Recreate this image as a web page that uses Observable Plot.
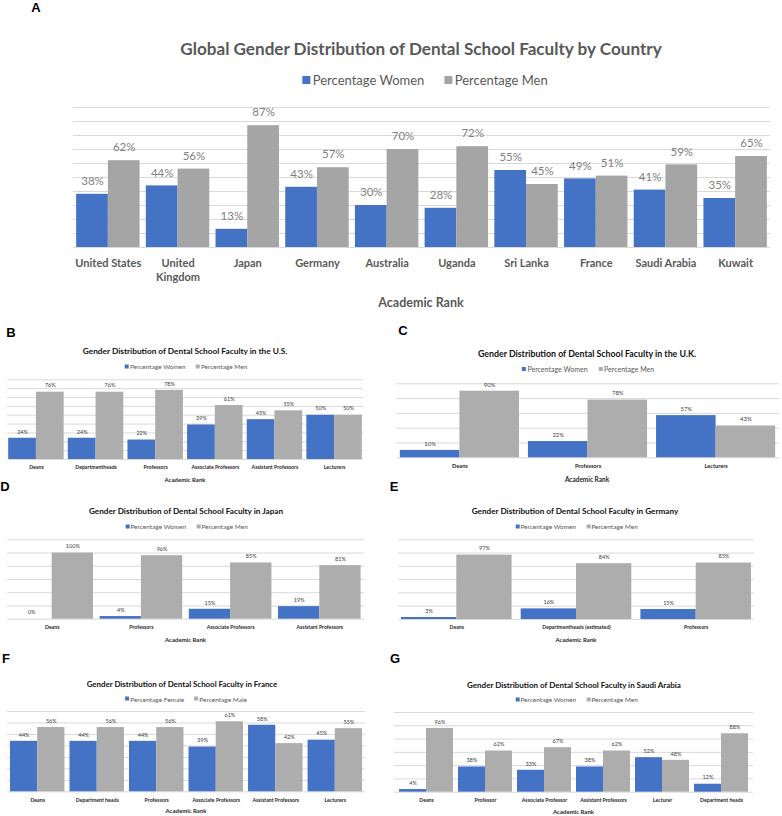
<!DOCTYPE html>
<html>
<head>
<meta charset="utf-8">
<script src="https://cdn.jsdelivr.net/npm/d3@7"></script>
<script src="https://cdn.jsdelivr.net/npm/@observablehq/plot@0.6"></script>
<style>
  html, body { margin: 0; padding: 0; background: #fff; }
  #root { position: relative; width: 782px; height: 816px; overflow: hidden; font-family: Lato, "Noto Sans", sans-serif; }
  .abs { position: absolute; white-space: nowrap; }
  .c { transform: translate(-50%, -50%); }
  .letter { font-family: "Liberation Sans", Arial, sans-serif; font-weight: bold; font-size: 13px; color: #000; }
  .legend { display: flex; align-items: center; }
  .sw { display: inline-block; }
</style>
</head>
<body>
<div id="root"></div>
<script>
// ---------- DATA ----------
const countries = ["United States", "United Kingdom", "Japan", "Germany", "Australia", "Uganda", "Sri Lanka", "France", "Saudi Arabia", "Kuwait"];
const countryTickLabels = ["United States", "United\nKingdom", "Japan", "Germany", "Australia", "Uganda", "Sri Lanka", "France", "Saudi Arabia", "Kuwait"];
const womenCountry = [38, 44, 13, 43, 30, 28, 55, 49, 41, 35];
const menCountry = [62, 56, 87, 57, 70, 72, 45, 51, 59, 65];

const ranksUS = ["Deans", "Departmentheads", "Professors", "Associate Professors", "Assistant Professors", "Lecturers"];
const womenUS = [24, 24, 22, 39, 45, 50];
const menUS = [76, 76, 78, 61, 55, 50];

const ranksUK = ["Deans", "Professors", "Lecturers"];
const womenUK = [10, 22, 57];
const menUK = [90, 78, 43];

const ranksJapan = ["Deans", "Professors", "Associate Professors", "Assistant Professors"];
const womenJapan = [0, 4, 15, 19];
const menJapan = [100, 96, 85, 81];

const ranksGermany = ["Deans", "Departmentheads (estimated)", "Professors"];
const womenGermany = [3, 16, 15];
const menGermany = [97, 84, 85];

const ranksFrance = ["Deans", "Department heads", "Professors", "Associate Professors", "Assistant Professors", "Lecturers"];
const femaleFrance = [44, 44, 44, 39, 58, 45];
const maleFrance = [56, 56, 56, 61, 42, 55];

const ranksSaudi = ["Deans", "Professor", "Associate Professor", "Assistant Professors", "Lecturer", "Department heads"];
const womenSaudi = [4, 38, 33, 38, 52, 12];
const menSaudi = [96, 62, 67, 62, 48, 88];

// ---------- STYLE ----------
const BLUE = "#4472C4";
const GRID = "#D9D9D9";
const root = document.getElementById("root");

function addText(txt, x, y, css) {
  const d = document.createElement("div");
  d.className = "abs c";
  d.textContent = txt;
  d.style.left = x + "px";
  d.style.top = y + "px";
  Object.assign(d.style, css);
  root.appendChild(d);
  return d;
}
function addLetter(txt, x, y) {
  const d = addText(txt, x, y, {});
  d.classList.add("letter");
}
function addLegend(labels, colors, x, y, fs, sq, gap, color) {
  const d = document.createElement("div");
  d.className = "abs c legend";
  d.style.left = x + "px";
  d.style.top = y + "px";
  d.style.fontSize = fs + "px";
  d.style.color = color;
  labels.forEach((l, i) => {
    const s = document.createElement("span");
    s.className = "sw";
    s.style.width = sq + "px"; s.style.height = sq + "px";
    s.style.background = colors[i];
    s.style.marginRight = (sq * 0.3) + "px";
    if (i > 0) s.style.marginLeft = gap + "px";
    const t = document.createElement("span");
    t.textContent = l;
    d.appendChild(s); d.appendChild(t);
  });
  root.appendChild(d);
}

function panel(p) {
  const n = p.cats.length;
  const rows = p.cats.map((c, i) => ({cat: c, tick: (p.ticks || p.cats)[i], w: p.women[i], m: p.men[i]}));
  const W = p.width - p.ml - p.mr;
  const step = W / (n - p.pi + 2 * p.po);
  const bw = step * (1 - p.pi);
  const gridVals = d3.range(0, p.ymax + 0.001, p.ystep);
  const chart = Plot.plot({
    width: p.width, height: p.height,
    marginTop: p.mt, marginBottom: p.mb, marginLeft: p.ml, marginRight: p.mr,
    x: {type: "band", domain: p.cats, paddingInner: p.pi, paddingOuter: p.po, round: false, axis: null},
    y: {domain: [0, p.ymax], axis: null},
    style: {fontFamily: "Lato, 'Noto Sans', sans-serif", background: "transparent", overflow: "visible"},
    marks: [
      Plot.ruleY(gridVals, {stroke: GRID, strokeWidth: 1}),
      Plot.barY(rows, {x: "cat", y: "w", fill: BLUE, insetLeft: 0, insetRight: bw / 2}),
      Plot.barY(rows, {x: "cat", y: "m", fill: p.gray, insetLeft: bw / 2, insetRight: 0}),
      Plot.text(rows, {x: "cat", y: "w", text: d => d.w + "%", dx: -bw / 4, dy: -p.valDy, fontSize: p.valFs, fill: p.valColor, lineAnchor: "middle"}),
      Plot.text(rows, {x: "cat", y: "m", text: d => d.m + "%", dx: bw / 4, dy: -p.valDy, fontSize: p.valFs, fill: p.valColor, lineAnchor: "middle"}),
      Plot.text(rows, {x: "cat", y: () => 0, text: "tick", dy: p.catDy, fontSize: p.catFs, fontWeight: "bold", fill: p.catColor, lineAnchor: "top", lineHeight: p.catLH || 1})
    ]
  });
  chart.style.position = "absolute";
  chart.style.left = p.left + "px";
  chart.style.top = p.top + "px";
  root.appendChild(chart);
}

// ---------- PANEL A ----------
addLetter("A", 36, 7);
addText("Global Gender Distribution of Dental School Faculty by Country", 421, 48, {fontSize: "17.1px", fontWeight: "bold", color: "#595959"});
addLegend(["Percentage Women", "Percentage Men"], [BLUE, "#A5A5A5"], 425, 80, 13, 8, 20, "#595959");
panel({left: 0, top: 100, width: 782, height: 220, mt: 7, mb: 73, ml: 73, mr: 12,
  cats: countries, ticks: countryTickLabels, women: womenCountry, men: menCountry,
  pi: 0.09, po: 0.045, ymax: 100, ystep: 10, gray: "#A5A5A5",
  valDy: 13, valFs: 11.5, valColor: "#7F7F7F", catDy: 10, catFs: 11, catColor: "#595959", catLH: 1.25});
addText("Academic Rank", 421, 302, {fontSize: "12.5px", fontWeight: "bold", color: "#595959"});

// ---------- small panels ----------
const SG = "#ADADAD";
function smallPanel(p, title, legendLabels, tpos, lpos, apos) {
  const k = p.k || 1;
  addText(title, tpos[0], tpos[1], {fontSize: p.titleFs + "px", fontWeight: "bold", color: "#111"});
  addLegend(legendLabels, [BLUE, SG], lpos[0], lpos[1], 6.5 * k, 4 * k, 10 * k, "#595959");
  panel(Object.assign({gray: SG, valDy: 6.5, valFs: 5.5 * k, valColor: "#404040", catFs: 5.2 * k, catColor: "#262626"}, p));
  addText("Academic Rank", apos[0], apos[1], {fontSize: (6 * k) + "px", fontWeight: "bold", color: "#262626"});
}

// B
addLetter("B", 11, 332);
smallPanel({left: 0, top: 370, width: 391, height: 110, mt: 9.3, mb: 21, ml: 7, mr: 28, titleFs: 8.3,
  cats: ranksUS, women: womenUS, men: menUS, pi: 0.07, po: 0.02, ymax: 90, ystep: 10, catDy: 6},
  "Gender Distribution of Dental School Faculty in the U.S.", ["Percentage Women", "Percentage Men"],
  [185, 351], [186, 366], [185, 479]);

// C
addLetter("C", 403, 330);
smallPanel({left: 391, top: 370, width: 391, height: 110, mt: 13.3, mb: 22.7, ml: 5, mr: 3, titleFs: 8.8, k: 1.08,
  cats: ranksUK, women: womenUK, men: menUK, pi: 0.07, po: 0.03, ymax: 100, ystep: 20, catDy: 6.5},
  "Gender Distribution of Dental School Faculty in the U.K.", ["Percentage Women", "Percentage Men"],
  [587, 353], [588, 369], [587, 479]);

// D
addLetter("D", 5, 486);
smallPanel({left: 0, top: 530, width: 391, height: 110, mt: 9.3, mb: 21.3, ml: 7, mr: 27, titleFs: 8.2,
  cats: ranksJapan, women: womenJapan, men: menJapan, pi: 0.074, po: 0.038, ymax: 120, ystep: 20, catDy: 6},
  "Gender Distribution of Dental School Faculty in Japan", ["Percentage Women", "Percentage Men"],
  [186, 511], [186.5, 526], [185.5, 639]);

// E
addLetter("E", 394, 486);
smallPanel({left: 391, top: 530, width: 391, height: 110, mt: 9.3, mb: 21, ml: 7, mr: 28, titleFs: 8.2,
  cats: ranksGermany, women: womenGermany, men: menGermany, pi: 0.076, po: 0.025, ymax: 120, ystep: 20, catDy: 6},
  "Gender Distribution of Dental School Faculty in Germany", ["Percentage Women", "Percentage Men"],
  [575, 511], [576.5, 526], [576, 639]);

// F
addLetter("F", 6, 658);
smallPanel({left: 0, top: 700, width: 391, height: 116, mt: 11, mb: 24.7, ml: 7, mr: 26, titleFs: 7.9,
  cats: ranksFrance, women: femaleFrance, men: maleFrance, pi: 0.085, po: 0.05, ymax: 70, ystep: 10, catDy: 6.5},
  "Gender Distribution of Dental School Faculty in France", ["Percentage Female", "Percentage Male"],
  [182, 683.5], [186, 698.5], [186, 810]);

// G
addLetter("G", 395, 658);
smallPanel({left: 391, top: 700, width: 391, height: 116, mt: 12, mb: 24.3, ml: 3, mr: 29, titleFs: 8.0,
  cats: ranksSaudi, women: womenSaudi, men: menSaudi, pi: 0.085, po: 0.085, ymax: 120, ystep: 20, catDy: 6},
  "Gender Distribution of Dental School Faculty in Saudi Arabia", ["Percentage Women", "Percentage Men"],
  [574, 684.5], [576.5, 699], [573.5, 811]);
</script>
</body>
</html>
